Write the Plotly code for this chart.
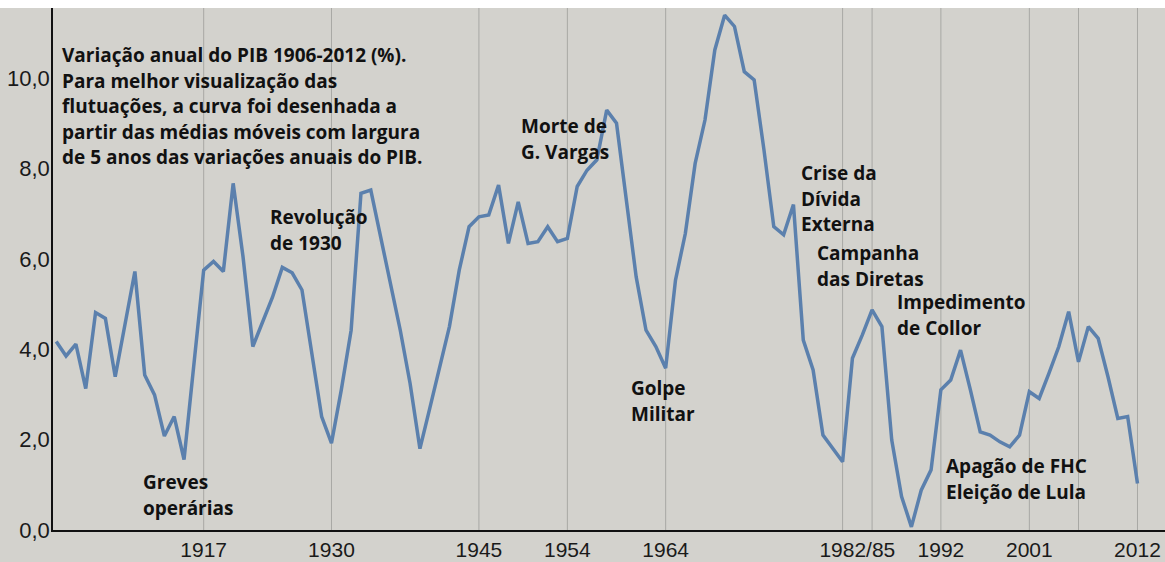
import plotly.graph_objects as go

# ---------------- data ----------------
years = list(range(1902, 2013))
gdp_ma = [
    4.17, 3.85, 4.11, 3.13, 4.81, 4.68, 3.39, 4.60, 5.72, 3.43,   # 1902-1911
    2.99, 2.08, 2.51, 1.56, 3.65, 5.75, 5.94, 5.72, 7.67, 6.05,   # 1912-1921
    4.06, 4.58, 5.15, 5.81, 5.69, 5.31, 3.90, 2.51, 1.92, 3.10,   # 1922-1931
    4.42, 7.45, 7.52, 6.49, 5.46, 4.42, 3.24, 1.80, 2.69, 3.57,   # 1932-1941
    4.50, 5.75, 6.71, 6.93, 6.97, 7.63, 6.34, 7.26, 6.34, 6.38,   # 1942-1951
    6.71, 6.38, 6.45, 7.60, 7.96, 8.19, 9.29, 9.00, 7.25, 5.60,   # 1952-1961
    4.42, 4.06, 3.58, 5.53, 6.56, 8.11, 9.07, 10.62, 11.39, 11.14,  # 1962-1971
    10.14, 9.96, 8.41, 6.71, 6.53, 7.20, 4.20, 3.54, 2.10, 1.81,  # 1972-1981
    1.51, 3.80, 4.31, 4.87, 4.50, 1.99, 0.74, 0.07, 0.88, 1.33,   # 1982-1991
    3.10, 3.32, 3.98, 3.10, 2.17, 2.10, 1.95, 1.84, 2.10, 3.06,   # 1992-2001
    2.91, 3.47, 4.06, 4.83, 3.72, 4.50, 4.24, 3.39, 2.47, 2.51,   # 2002-2011
    1.03,                                                         # 2012
]

grid_years = [1917, 1930, 1945, 1954, 1964, 1982, 1985, 1992, 2001, 2006, 2012]
tick_vals = [1917, 1930, 1945, 1954, 1964, 1983.5, 1992, 2001, 2012]
tick_text = ["1917", "1930", "1945", "1954", "1964", "1982/85", "1992", "2001", "2012"]
y_ticks = [0, 2, 4, 6, 8, 10]

title_lines = [
    "Variação anual do PIB 1906-2012 (%).",
    "Para melhor visualização das",
    "flutuações, a curva foi desenhada a",
    "partir das médias móveis com largura",
    "de 5 anos das variações anuais do PIB.",
]
events = [
    (["Greves", "operárias"], 143, 482),
    (["Revolução", "de 1930"], 270, 217),
    (["Morte de", "G. Vargas"], 521, 126),
    (["Golpe", "Militar"], 631, 388),
    (["Crise da", "Dívida", "Externa"], 801, 173),
    (["Campanha", "das Diretas"], 817, 253),
    (["Impedimento", "de Collor"], 897, 302),
    (["Apagão de FHC", "Eleição de Lula"], 946, 466),
]

# ---------------- layout geometry (pixels) ----------------
W, H = 1165, 562
L, R, T, B = 53, 1165, 8, 530
BG = "#d3d2cd"


def xp(px):
    return (px - L) / (R - L)


def yp(py):
    return (B - py) / (B - T)


fig = go.Figure()
fig.add_trace(go.Scatter(
    x=years, y=gdp_ma, mode="lines",
    line=dict(color="#5b80ad", width=3.5),
    hoverinfo="skip", showlegend=False,
))

shapes = []
for g in grid_years:
    shapes.append(dict(type="line", xref="x", yref="paper", x0=g, x1=g, y0=0, y1=1,
                       line=dict(color="#a8a8a4", width=1), layer="below"))
# white strip at top
shapes.append(dict(type="rect", xref="paper", yref="paper", x0=-0.1, x1=1.1,
                   y0=1, y1=1 + 30 / (B - T), fillcolor="white", line=dict(width=0),
                   layer="above"))

annotations = []
fnt = dict(family="Open Sans", size=19, color="#111111")
LINE_H = 25.6
for i, t in enumerate(title_lines):
    annotations.append(dict(text=f"<b>{t}</b>", xref="paper", yref="paper",
                            x=xp(60), y=yp(55 + i * LINE_H), xanchor="left", yanchor="middle",
                            showarrow=False, font=fnt))
for lines, px, py in events:
    for i, t in enumerate(lines):
        annotations.append(dict(text=f"<b>{t}</b>", xref="paper", yref="paper",
                                x=xp(px - 2), y=yp(py + i * LINE_H), xanchor="left", yanchor="middle",
                                showarrow=False, font=fnt))

fig.update_layout(
    width=W, height=H,
    margin=dict(l=L, r=W - R, t=T, b=H - B, pad=0),
    paper_bgcolor=BG, plot_bgcolor=BG,
    separators=",.",
    shapes=shapes, annotations=annotations,
    xaxis=dict(range=[1901.67, 2014.8], showgrid=False, zeroline=False,
               tickmode="array", tickvals=tick_vals, ticktext=tick_text,
               ticks="", showline=True, linecolor="#111111", linewidth=1.5,
               tickfont=dict(family="Liberation Sans", size=21, color="#1a1a1a")),
    yaxis=dict(range=[0, (B - T) / 45.2], showgrid=False, zeroline=False,
               tickmode="array", tickvals=y_ticks, tickformat=".1f",
               ticks="", showline=True, linecolor="#111111", linewidth=1.5,
               ticklabelstandoff=-3,
               tickfont=dict(family="Liberation Sans", size=22, color="#1a1a1a")),
)

fig.write_html("out.html", config={"displayModeBar": False},
               post_script="document.body.style.margin='0';document.body.style.padding='0';")
